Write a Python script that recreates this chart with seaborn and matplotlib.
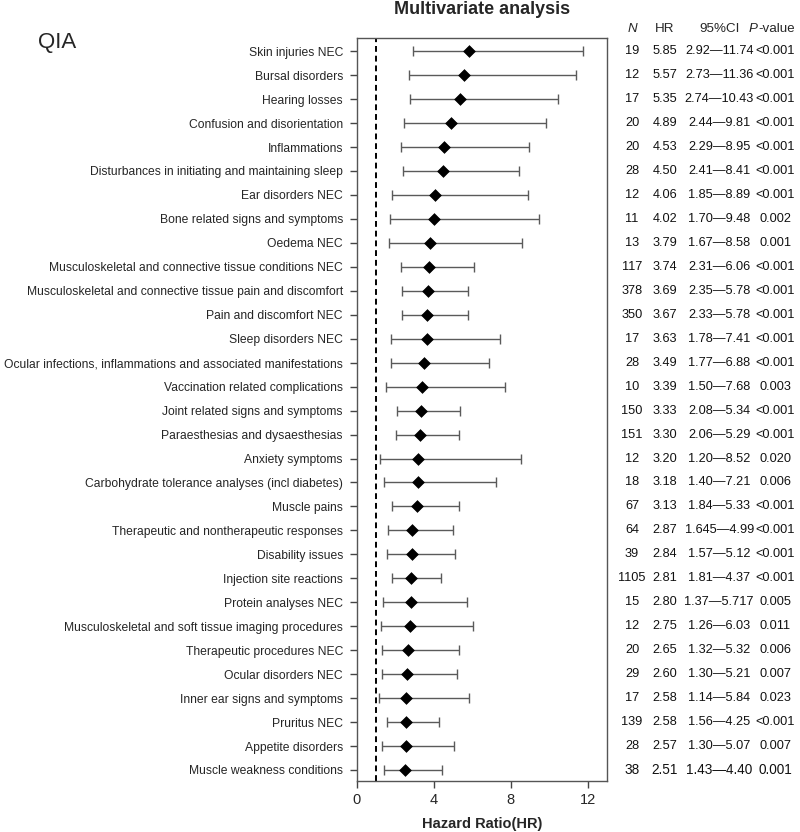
import matplotlib
matplotlib.use("Agg")
import matplotlib.pyplot as plt
import matplotlib.transforms as mtransforms
import seaborn as sns
import pandas as pd

categories = [
    "Skin injuries NEC", "Bursal disorders", "Hearing losses", "Confusion and disorientation",
    "Inflammations", "Disturbances in initiating and maintaining sleep", "Ear disorders NEC",
    "Bone related signs and symptoms", "Oedema NEC", "Musculoskeletal and connective tissue conditions NEC",
    "Musculoskeletal and connective tissue pain and discomfort", "Pain and discomfort NEC",
    "Sleep disorders NEC", "Ocular infections, inflammations and associated manifestations",
    "Vaccination related complications", "Joint related signs and symptoms",
    "Paraesthesias and dysaesthesias", "Anxiety symptoms",
    "Carbohydrate tolerance analyses (incl diabetes)", "Muscle pains",
    "Therapeutic and nontherapeutic responses", "Disability issues", "Injection site reactions",
    "Protein analyses NEC", "Musculoskeletal and soft tissue imaging procedures",
    "Therapeutic procedures NEC", "Ocular disorders NEC", "Inner ear signs and symptoms",
    "Pruritus NEC", "Appetite disorders", "Muscle weakness conditions",
]
n_values = [19, 12, 17, 20, 20, 28, 12, 11, 13, 117, 378, 350, 17, 28, 10, 150, 151, 12, 18, 67,
            64, 39, 1105, 15, 12, 20, 29, 17, 139, 28, 38]
hr = [5.85, 5.57, 5.35, 4.89, 4.53, 4.50, 4.06, 4.02, 3.79, 3.74, 3.69, 3.67, 3.63, 3.49, 3.39,
      3.33, 3.30, 3.20, 3.18, 3.13, 2.87, 2.84, 2.81, 2.80, 2.75, 2.65, 2.60, 2.58, 2.58, 2.57, 2.51]
lower = [2.92, 2.73, 2.74, 2.44, 2.29, 2.41, 1.85, 1.70, 1.67, 2.31, 2.35, 2.33, 1.78, 1.77, 1.50,
         2.08, 2.06, 1.20, 1.40, 1.84, 1.645, 1.57, 1.81, 1.37, 1.26, 1.32, 1.30, 1.14, 1.56, 1.30, 1.43]
upper = [11.74, 11.36, 10.43, 9.81, 8.95, 8.41, 8.89, 9.48, 8.58, 6.06, 5.78, 5.78, 7.41, 6.88, 7.68,
         5.34, 5.29, 8.52, 7.21, 5.33, 4.99, 5.12, 4.37, 5.717, 6.03, 5.32, 5.21, 5.84, 4.25, 5.07, 4.40]
ci_lo_labels = ["2.92", "2.73", "2.74", "2.44", "2.29", "2.41", "1.85", "1.70", "1.67", "2.31", "2.35",
                "2.33", "1.78", "1.77", "1.50", "2.08", "2.06", "1.20", "1.40", "1.84", "1.645", "1.57",
                "1.81", "1.37", "1.26", "1.32", "1.30", "1.14", "1.56", "1.30", "1.43"]
ci_hi_labels = ["11.74", "11.36", "10.43", "9.81", "8.95", "8.41", "8.89", "9.48", "8.58", "6.06", "5.78",
                "5.78", "7.41", "6.88", "7.68", "5.34", "5.29", "8.52", "7.21", "5.33", "4.99", "5.12",
                "4.37", "5.717", "6.03", "5.32", "5.21", "5.84", "4.25", "5.07", "4.40"]
hr_labels = ["5.85", "5.57", "5.35", "4.89", "4.53", "4.50", "4.06", "4.02", "3.79", "3.74", "3.69",
             "3.67", "3.63", "3.49", "3.39", "3.33", "3.30", "3.20", "3.18", "3.13", "2.87", "2.84",
             "2.81", "2.80", "2.75", "2.65", "2.60", "2.58", "2.58", "2.57", "2.51"]
p_labels = ["<0.001", "<0.001", "<0.001", "<0.001", "<0.001", "<0.001", "<0.001", "0.002", "0.001",
            "<0.001", "<0.001", "<0.001", "<0.001", "<0.001", "0.003", "<0.001", "<0.001", "0.020",
            "0.006", "<0.001", "<0.001", "<0.001", "<0.001", "0.005", "0.011", "0.006", "0.007",
            "0.023", "<0.001", "0.007", "0.001"]
xticks = [0, 4, 8, 12]

sns.set_theme(style="white")
plt.rcParams["font.family"] = ["Liberation Sans", "DejaVu Sans"]

df = pd.DataFrame({"cat": categories, "hr": hr, "lo": lower, "hi": upper})
df["pos"] = range(len(df))

fig = plt.figure(figsize=(8, 8.32), dpi=100)
ax = fig.add_axes([0.446, 0.0613, 0.313, 0.893])

ax.errorbar(df["hr"], df["pos"],
            xerr=[df["hr"] - df["lo"], df["hi"] - df["hr"]],
            fmt="none", ecolor="#5a5a5a", elinewidth=1.0, capsize=3.5, capthick=1.0, zorder=2)
sns.scatterplot(data=df, x="hr", y="pos", marker="D", s=36, color="black",
                edgecolor="black", ax=ax, zorder=3, legend=False)
ax.axvline(1, color="black", linestyle=(0, (3, 2)), linewidth=1.4, zorder=1)

ax.set_xlim(0, 13)
ax.set_ylim(30.46, -0.55)
ax.set_xticks(xticks)
ax.set_xticklabels([str(t) for t in xticks], fontsize=10.5)
ax.set_yticks(df["pos"])
ax.set_yticklabels(categories, fontsize=8.75)
ax.tick_params(axis="both", which="both", direction="out", length=5, width=1,
               color="#444444", left=True, bottom=True)
ax.tick_params(axis="y", pad=5)
ax.tick_params(axis="x", pad=4)
for s in ax.spines.values():
    s.set_color("#555555")
    s.set_linewidth(1.0)
ax.set_xlabel("Hazard Ratio(HR)", fontsize=10.5, fontweight="bold", labelpad=7)
ax.set_ylabel("")

trans = mtransforms.blended_transform_factory(fig.transFigure, ax.transData)
col_x = [0.79, 0.831, 0.899, 0.969]
for i in range(len(categories)):
    fs = 9.8 if i == len(categories) - 1 else 9.2
    ci = ci_lo_labels[i] + "\u2014" + ci_hi_labels[i]
    vals = [str(n_values[i]), hr_labels[i], ci, p_labels[i]]
    for x, v in zip(col_x, vals):
        fig.text(x, i, v, transform=trans, ha="center", va="center", fontsize=fs, color="#111111")

hy = -0.92
fig.text(col_x[0], hy, "N", transform=trans, ha="center", va="center", fontsize=9.6, style="italic")
fig.text(col_x[1], hy, "HR", transform=trans, ha="center", va="center", fontsize=9.6)
fig.text(col_x[2], hy, "95%CI", transform=trans, ha="center", va="center", fontsize=9.6)
fig.text(0.9465, hy, "P", transform=trans, ha="right", va="center", fontsize=9.6, style="italic")
fig.text(0.948, hy, "-value", transform=trans, ha="left", va="center", fontsize=9.6)

fig.text(0.6025, 0.9885, "Multivariate analysis", ha="center", va="center",
         fontsize=13, fontweight="bold")
fig.text(0.047, 0.949, "QIA", ha="left", va="center", fontsize=16)

fig.savefig("out.png", dpi=100)
